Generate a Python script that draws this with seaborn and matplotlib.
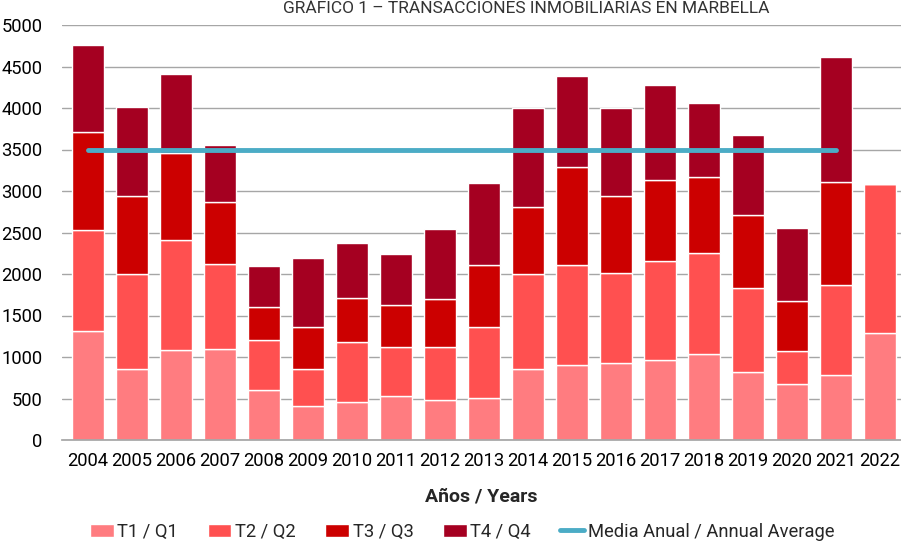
import numpy as np
import pandas as pd
import seaborn as sns
import matplotlib.pyplot as plt


YEARS = [str(y) for y in range(2004, 2023)]

# transacciones por trimestre
Q1 = [1310, 855, 1085, 1095, 605, 410, 460, 530, 480, 505, 855, 905, 930, 965, 1035, 825, 675, 785, 1285]
Q2 = [1220, 1145, 1325, 1020, 600, 445, 720, 590, 640, 855, 1145, 1205, 1085, 1195, 1220, 1010, 395, 1085, 1805]
Q3 = [1185, 945, 1050, 755, 395, 505, 530, 505, 580, 745, 810, 1180, 930, 970, 915, 870, 605, 1235, 0]
Q4 = [1040, 1065, 945, 680, 500, 830, 665, 615, 845, 990, 1190, 1095, 1050, 1145, 895, 965, 875, 1515, 0]

AVG_YEARS = YEARS[:-1]
ANNUAL_AVG = [3490] * len(AVG_YEARS)

SERIES = [
    ("T1 / Q1", Q1, "#FF7C80"),
    ("T2 / Q2", Q2, "#FF5050"),
    ("T3 / Q3", Q3, "#CC0000"),
    ("T4 / Q4", Q4, "#A50021"),
]

TITLE = "GRÁFICO 1 – TRANSACCIONES INMOBILIARIAS EN MARBELLA"


def main():
    sns.set_theme(style="white")
    plt.rcParams["font.family"] = ["Roboto", "DejaVu Sans"]

    fig = plt.figure(figsize=(9.01, 5.43), dpi=100)
    ax = fig.add_axes([62 / 901, 103 / 543, 839 / 901, 415 / 543])

    bottom = np.zeros(len(YEARS))
    for label, vals, color in SERIES:
        sns.barplot(x=YEARS, y=vals, order=YEARS, color=color, saturation=1,
                    width=0.73, bottom=bottom, label=label, ax=ax, zorder=2)
        bottom = bottom + np.array(vals)

    sns.lineplot(x=AVG_YEARS, y=ANNUAL_AVG, color="#4BACC6", linewidth=3.5,
                 label="Media Anual / Annual Average", ax=ax, zorder=3)

    ax.set_ylim(0, 5000)
    ax.set_xlim(-0.59, 18.48)
    ax.set_yticks(range(0, 5001, 500))
    ax.yaxis.grid(True, color="#A6A6A6", linewidth=1)
    ax.set_axisbelow(True)
    for side in ["top", "right", "left"]:
        ax.spines[side].set_visible(False)
    ax.spines["bottom"].set_color("#A6A6A6")

    ax.tick_params(axis="y", length=0, pad=14, labelsize=13.2, labelcolor="black")
    ax.tick_params(axis="x", length=0, pad=9, labelsize=13.2, labelcolor="black")
    ax.set_ylabel("")
    ax.set_xlabel("Años / Years", fontsize=14, fontweight="bold", labelpad=12)

    ax.get_legend().remove()
    handles, labels = ax.get_legend_handles_labels()
    order = [1, 2, 3, 4, 0]
    fig.legend([handles[i] for i in order], [labels[i] for i in order],
               loc="center", bbox_to_anchor=(462 / 901, 11 / 543),
               ncol=5, frameon=False, fontsize=13.2, handlelength=1.3,
               handleheight=0.75, handletextpad=0.2, columnspacing=1.6)

    fig.text(283 / 901, 1 - 13 / 543, TITLE, ha="left", va="baseline",
             fontsize=12.5, color="#333333")

    fig.savefig("out.png", dpi=100)
    plt.close(fig)


if __name__ == "__main__":
    main()
